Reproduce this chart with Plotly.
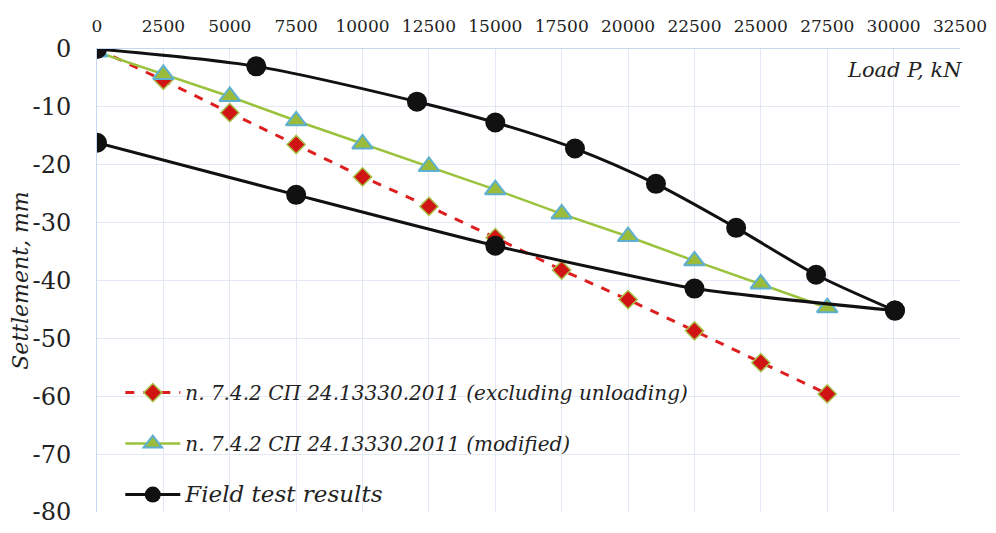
import plotly.graph_objects as go

# Data
load_excl = [0, 2500, 5000, 7500, 10000, 12500, 15000, 17500, 20000, 22500, 25000, 27500]
settle_excl = [0, -5.4, -11.0, -16.5, -22.1, -27.2, -32.6, -38.2, -43.3, -48.7, -54.2, -59.6]

load_mod = [0, 2500, 5000, 7500, 10000, 12500, 15000, 17500, 20000, 22500, 25000, 27500]
settle_mod = [-0.5, -4.4, -8.2, -12.4, -16.4, -20.3, -24.3, -28.5, -32.4, -36.6, -40.6, -44.7]

load_field_up = [0, 6000, 12050, 15000, 18000, 21050, 24070, 27080, 30050]
settle_field_up = [0, -3.0, -9.1, -12.7, -17.2, -23.3, -30.9, -39.0, -45.2]

load_field_down = [30050, 22500, 15000, 7500, 0]
settle_field_down = [-45.2, -41.4, -34.0, -25.2, -16.2]

x_ticks = list(range(0, 32501, 2500))
y_ticks = list(range(-80, 1, 10))

SERIF = "DejaVu Serif"

fig = go.Figure()

fig.add_trace(go.Scatter(
    x=load_excl, y=settle_excl, mode="lines+markers",
    line=dict(color="#dd1f1f", width=3, dash="dash"),
    marker=dict(symbol="diamond", size=14, color="#d01414",
                line=dict(color="#a8c04a", width=1.5)),
    name="<i>n. 7.4.2 СП 24.13330.2011 (excluding unloading)</i>",
    legendgroup="a", legendrank=1))

fig.add_trace(go.Scatter(
    x=load_mod, y=settle_mod, mode="lines+markers",
    line=dict(color="#9bc23c", width=2.5),
    marker=dict(symbol="triangle-up", size=18, color="#9bbb3b",
                line=dict(color="#5fb0d0", width=2)),
    name="<i>n. 7.4.2 СП 24.13330.2011 (modified)</i>",
    legendgroup="b", legendrank=2))

fig.add_trace(go.Scatter(
    x=load_field_up, y=settle_field_up, mode="lines+markers",
    line=dict(color="#111111", width=3, shape="spline", smoothing=0.8),
    marker=dict(symbol="circle", size=20, color="#111111"),
    name="<i><span style='font-size:23px'>Field test results</span></i>",
    legendgroup="c", legendrank=3, showlegend=True))
fig.add_trace(go.Scatter(
    x=load_field_down, y=settle_field_down, mode="lines+markers",
    line=dict(color="#111111", width=3, shape="spline", smoothing=0.5),
    marker=dict(symbol="circle", size=20, color="#111111"),
    legendgroup="c", showlegend=False))

fig.update_layout(
    width=996, height=533,
    margin=dict(l=89, r=44, t=41, b=29),
    paper_bgcolor="white", plot_bgcolor="white",
    font=dict(family=SERIF, color="#222222"),
    showlegend=True,
    legend=dict(x=0.027, y=0.30, xanchor="left", yanchor="top",
                bgcolor="rgba(255,255,255,0)", font=dict(size=20, family=SERIF),
                traceorder="grouped", tracegroupgap=22, itemwidth=55),
    xaxis=dict(side="top", range=[0, 32500], tickvals=x_ticks,
               ticktext=[str(v) for v in x_ticks],
               tickfont=dict(size=17, family=SERIF, color="#222222"),
               ticklabelstandoff=9, automargin=False,
               showgrid=True, gridcolor="#e2e8f4", gridwidth=1,
               showline=True, linecolor="#c9d6ee", linewidth=1,
               zeroline=False, ticks="", mirror=False),
    yaxis=dict(range=[-80, 0], tickvals=y_ticks,
               ticktext=[str(v) for v in y_ticks],
               tickfont=dict(size=24, family=SERIF, color="#222222"),
               ticklabelstandoff=20, automargin=False,
               showgrid=True, gridcolor="#e2e8f4", gridwidth=1,
               showline=True, linecolor="#c9d6ee", linewidth=1,
               zeroline=False, ticks="",
               title=dict(text="<i>Settlement, mm</i>", font=dict(size=22, family=SERIF),
                          standoff=0)),
    annotations=[dict(text="<i>Load P, kN</i>", x=1.005, y=0.985, xref="paper", yref="paper",
                      xanchor="right", yanchor="top", showarrow=False,
                      font=dict(size=21, family=SERIF, color="#222222"))],
)

fig.write_html("out.html")
